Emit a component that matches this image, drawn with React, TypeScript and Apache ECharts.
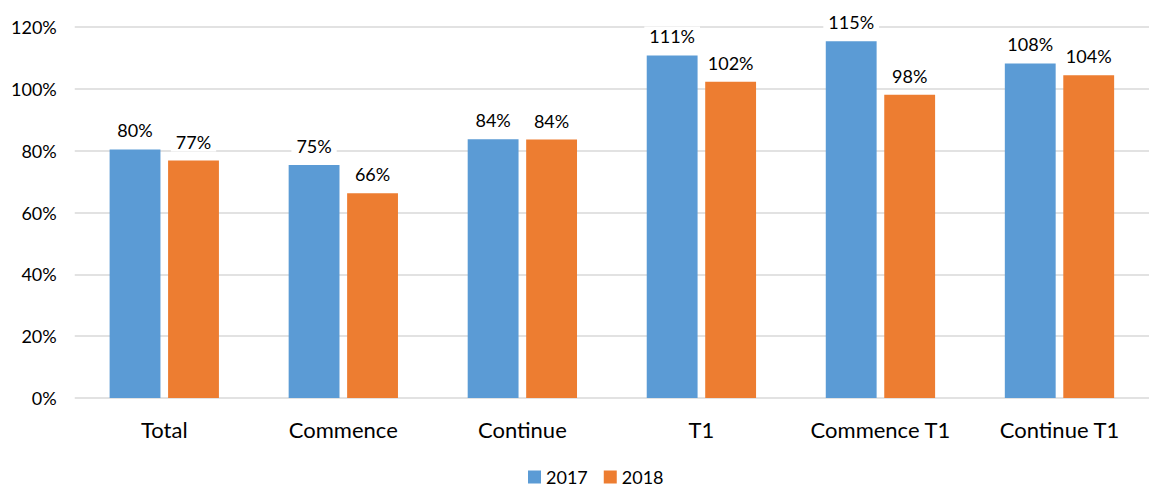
import React, { useEffect, useRef } from "react";
import * as echarts from "echarts";

const categories = ["Total", "Commence", "Continue", "T1", "Commence T1", "Continue T1"];
const values2017 = [80.4, 75.4, 83.7, 110.8, 115.4, 108.2];
const values2018 = [76.8, 66.2, 83.6, 102.3, 98.1, 104.4];
const yTicks = [0, 20, 40, 60, 80, 100, 120];

const FONT = "Lato, 'Open Sans', sans-serif";

export default function App() {
  const ref = useRef<HTMLDivElement>(null);
  useEffect(() => {
    if (!ref.current) return;
    const chart = echarts.init(ref.current, undefined, { renderer: "svg" });
    const labelCfg = {
      show: true,
      position: "top",
      distance: 9,
      formatter: (p: any) => Math.round(p.value) + "%",
      color: "#000",
      fontSize: 18,
      fontFamily: FONT,
      backgroundColor: "#fff",
      padding: [1, 5],
    };
    chart.setOption({
      animation: false,
      textStyle: { fontFamily: FONT },
      grid: { left: 66, right: 0, top: 19, bottom: 89, containLabel: false },
      legend: {
        top: 460,
        left: 520,
        padding: 0,
        itemWidth: 13,
        itemHeight: 13,
        itemGap: 16,
        icon: "rect",
        textStyle: { fontSize: 18, color: "#000", fontFamily: FONT },
        data: ["2017", "2018"],
      },
      xAxis: {
        type: "category",
        data: categories,
        axisLine: { show: false },
        axisTick: { show: false },
        axisLabel: { fontSize: 22, color: "#000", margin: 20, fontFamily: FONT, interval: 0 },
      },
      yAxis: {
        type: "value",
        min: yTicks[0],
        max: yTicks[yTicks.length - 1],
        interval: 20,
        axisLine: { show: false },
        axisTick: { show: false },
        splitLine: { lineStyle: { color: "#d9d9d9", width: 1.5 } },
        axisLabel: {
          formatter: (v: number) => v + "%",
          fontSize: 18,
          color: "#000",
          margin: 18,
          fontFamily: FONT,
        },
      },
      series: [
        {
          name: "2017",
          type: "bar",
          data: values2017,
          barWidth: "28.4%",
          barGap: "15%",
          itemStyle: { color: "#5B9BD5" },
          label: labelCfg,
        },
        {
          name: "2018",
          type: "bar",
          data: values2018,
          barWidth: "28.4%",
          itemStyle: { color: "#ED7D31" },
          label: labelCfg,
        },
      ],
    });
    return () => chart.dispose();
  }, []);
  return <div ref={ref} style={{ width: 1141, height: 479 }} />;
}
